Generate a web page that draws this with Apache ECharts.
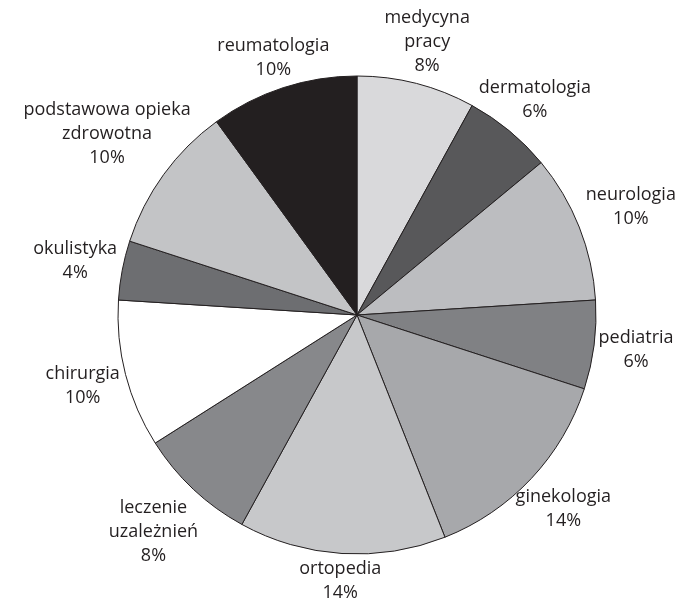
<!DOCTYPE html>
<html>
<head>
<meta charset="utf-8">
<script src="https://cdn.jsdelivr.net/npm/echarts@6/dist/echarts.min.js"></script>
<style>
  html, body { margin: 0; padding: 0; background: #fff; }
  #chart { width: 680px; height: 598px; }
</style>
</head>
<body>
<div id="chart"></div>
<script>
// kategorie (zgodnie z ruchem wskazówek zegara, od góry)
const names = ['medycyna\npracy', 'dermatologia', 'neurologia', 'pediatria', 'ginekologia',
  'ortopedia', 'leczenie\nuzależnień', 'chirurgia', 'okulistyka',
  'podstawowa opieka\nzdrowotna', 'reumatologia'];
const values = [8, 6, 10, 6, 14, 14, 8, 10, 4, 10, 10];
const colors = ['#d9d9db', '#58585a', '#bcbdc0', '#808184', '#a7a8ab',
  '#c7c8ca', '#87888b', '#ffffff', '#6d6e71', '#c3c4c6', '#231f20'];

const cx = 357, cy = 315, R = 239;
const total = values.reduce((a, b) => a + b, 0);

// kąt środka wycinka (od góry, zgodnie z ruchem wskazówek)
const midAngles = [];
let acc = 0;
values.forEach(v => {
  midAngles.push((acc + v / 2) / total * 2 * Math.PI);
  acc += v;
});

const chart = echarts.init(document.getElementById('chart'));
chart.setOption({
  animation: false,
  series: [{
    type: 'pie',
    center: [cx, cy],
    radius: R,
    startAngle: 90,
    clockwise: true,
    silent: true,
    itemStyle: { borderColor: '#231f20', borderWidth: 1 },
    label: {
      show: true,
      position: 'outside',
      formatter: p => p.name + '\n' + p.value + '%',
      fontFamily: 'Open Sans',
      fontSize: 18,
      lineHeight: 24,
      color: '#231f20',
      overflow: 'none'
    },
    labelLine: { show: false },
    // etykieta na przedłużeniu promienia, tuż za krawędzią koła
    labelLayout: p => {
      const a = midAngles[p.dataIndex];
      const ux = Math.sin(a), uy = -Math.cos(a);
      const hw = p.labelRect.width / 2, hh = p.labelRect.height / 2;
      const t = Math.min(Math.abs(ux) > 1e-6 ? hw / Math.abs(ux) : 1e9,
                         Math.abs(uy) > 1e-6 ? hh / Math.abs(uy) : 1e9);
      const gap = 3 + 12 * Math.abs(ux * uy);
      const d = R + gap + t;
      return { x: cx + ux * d, y: cy + uy * d, align: 'center', verticalAlign: 'middle' };
    },
    data: names.map((n, i) => ({ name: n, value: values[i], itemStyle: { color: colors[i] } }))
  }]
});
</script>
</body>
</html>
